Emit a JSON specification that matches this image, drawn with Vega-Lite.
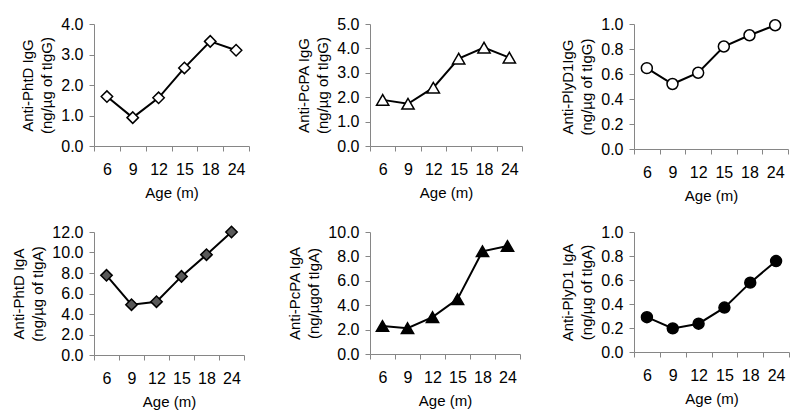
{
  "$schema": "https://vega.github.io/schema/vega-lite/v6.json",
  "padding": {"left": 11, "top": 16, "right": 5, "bottom": 5},
  "config": {
    "font": "Liberation Sans",
    "view": {"stroke": null},
    "axis": {
      "grid": false,
      "domainColor": "#868686",
      "tickColor": "#868686",
      "tickSize": 5,
      "labelFontSize": 16,
      "titleFontSize": 15,
      "titleFontWeight": "normal",
      "labelColor": "black",
      "titleColor": "black"
    },
    "axisX": {"labelPadding": 10, "titlePadding": 8, "labelAngle": 0},
    "axisY": {"labelPadding": 6, "titlePadding": 6, "titleLineHeight": 19}
  },
  "data": {
    "values": [
      {"panel": "p1", "age": 6, "value": 1.62},
      {"panel": "p1", "age": 9, "value": 0.93},
      {"panel": "p1", "age": 12, "value": 1.58},
      {"panel": "p1", "age": 15, "value": 2.56},
      {"panel": "p1", "age": 18, "value": 3.43},
      {"panel": "p1", "age": 24, "value": 3.14},
      {"panel": "p2", "age": 6, "value": 1.89},
      {"panel": "p2", "age": 9, "value": 1.73},
      {"panel": "p2", "age": 12, "value": 2.39},
      {"panel": "p2", "age": 15, "value": 3.58},
      {"panel": "p2", "age": 18, "value": 4.03},
      {"panel": "p2", "age": 24, "value": 3.62},
      {"panel": "p3", "age": 6, "value": 0.647},
      {"panel": "p3", "age": 9, "value": 0.52},
      {"panel": "p3", "age": 12, "value": 0.61},
      {"panel": "p3", "age": 15, "value": 0.82},
      {"panel": "p3", "age": 18, "value": 0.91},
      {"panel": "p3", "age": 24, "value": 0.99},
      {"panel": "p4", "age": 6, "value": 7.77},
      {"panel": "p4", "age": 9, "value": 4.91},
      {"panel": "p4", "age": 12, "value": 5.2},
      {"panel": "p4", "age": 15, "value": 7.67},
      {"panel": "p4", "age": 18, "value": 9.79},
      {"panel": "p4", "age": 24, "value": 12.0},
      {"panel": "p5", "age": 6, "value": 2.3},
      {"panel": "p5", "age": 9, "value": 2.12},
      {"panel": "p5", "age": 12, "value": 3.02},
      {"panel": "p5", "age": 15, "value": 4.5},
      {"panel": "p5", "age": 18, "value": 8.42},
      {"panel": "p5", "age": 24, "value": 8.85},
      {"panel": "p6", "age": 6, "value": 0.29},
      {"panel": "p6", "age": 9, "value": 0.197},
      {"panel": "p6", "age": 12, "value": 0.236},
      {"panel": "p6", "age": 15, "value": 0.37},
      {"panel": "p6", "age": 18, "value": 0.578},
      {"panel": "p6", "age": 24, "value": 0.758}
    ]
  },
  "columns": 3,
  "spacing": {"row": 20, "column": 37},
  "concat": [
    {
      "width": 155, "height": 122,
      "transform": [{"filter": "datum.panel == 'p1'"}],
      "mark": {"type": "line", "color": "black", "strokeWidth": 2, "point": {"shape": "diamond", "filled": true, "fill": "white", "stroke": "black", "strokeWidth": 1.5, "size": 130}},
      "encoding": {
        "x": {"field": "age", "type": "ordinal", "bandPosition": 0.5, "scale": {"type": "band", "paddingInner": 0, "paddingOuter": 0}, "axis": {"title": "Age (m)", "tickBand": "extent"}},
        "y": {"field": "value", "type": "quantitative", "scale": {"domain": [0, 4]}, "axis": {"title": ["Anti-PhtD IgG", "(ng/µg of tIgG)"], "values": [0, 1, 2, 3, 4], "format": ".1f"}}
      }
    },
    {
      "width": 152, "height": 122,
      "transform": [{"filter": "datum.panel == 'p2'"}],
      "mark": {"type": "line", "color": "black", "strokeWidth": 2, "point": {"shape": "triangle-up", "filled": true, "fill": "white", "stroke": "black", "strokeWidth": 1.5, "size": 150}},
      "encoding": {
        "x": {"field": "age", "type": "ordinal", "bandPosition": 0.5, "scale": {"type": "band", "paddingInner": 0, "paddingOuter": 0}, "axis": {"title": "Age (m)", "tickBand": "extent"}},
        "y": {"field": "value", "type": "quantitative", "scale": {"domain": [0, 5]}, "axis": {"title": ["Anti-PcPA  IgG", "(ng/µg of tIgG)"], "values": [0, 1, 2, 3, 4, 5], "format": ".1f"}}
      }
    },
    {
      "width": 154, "height": 125,
      "transform": [{"filter": "datum.panel == 'p3'"}],
      "mark": {"type": "line", "color": "black", "strokeWidth": 2, "point": {"shape": "circle", "filled": true, "fill": "white", "stroke": "black", "strokeWidth": 1.5, "size": 120}},
      "encoding": {
        "x": {"field": "age", "type": "ordinal", "bandPosition": 0.5, "scale": {"type": "band", "paddingInner": 0, "paddingOuter": 0}, "axis": {"title": "Age (m)", "tickBand": "extent"}},
        "y": {"field": "value", "type": "quantitative", "scale": {"domain": [0, 1]}, "axis": {"title": ["Anti-PlyD1IgG", "(ng/µg of tIgG)"], "values": [0, 0.2, 0.4, 0.6, 0.8, 1], "format": ".1f"}}
      }
    },
    {
      "width": 150, "height": 123,
      "transform": [{"filter": "datum.panel == 'p4'"}],
      "mark": {"type": "line", "color": "black", "strokeWidth": 2, "point": {"shape": "diamond", "filled": true, "fill": "#595959", "stroke": "black", "strokeWidth": 1.5, "size": 130}},
      "encoding": {
        "x": {"field": "age", "type": "ordinal", "bandPosition": 0.5, "scale": {"type": "band", "paddingInner": 0, "paddingOuter": 0}, "axis": {"title": "Age (m)", "tickBand": "extent"}},
        "y": {"field": "value", "type": "quantitative", "scale": {"domain": [0, 12]}, "axis": {"title": ["Anti-PhtD IgA", "(ng/µg of tIgA)"], "values": [0, 2, 4, 6, 8, 10, 12], "format": ".1f"}}
      }
    },
    {
      "width": 150, "height": 122,
      "transform": [{"filter": "datum.panel == 'p5'"}],
      "mark": {"type": "line", "color": "black", "strokeWidth": 2, "point": {"shape": "triangle-up", "filled": true, "fill": "black", "stroke": "black", "strokeWidth": 1.5, "size": 150}},
      "encoding": {
        "x": {"field": "age", "type": "ordinal", "bandPosition": 0.5, "scale": {"type": "band", "paddingInner": 0, "paddingOuter": 0}, "axis": {"title": "Age (m)", "tickBand": "extent"}},
        "y": {"field": "value", "type": "quantitative", "scale": {"domain": [0, 10]}, "axis": {"title": ["Anti-PcPA  IgA", "(ng/µgof tIgA)"], "values": [0, 2, 4, 6, 8, 10], "format": ".1f"}}
      }
    },
    {
      "width": 155, "height": 120,
      "transform": [{"filter": "datum.panel == 'p6'"}],
      "mark": {"type": "line", "color": "black", "strokeWidth": 2, "point": {"shape": "circle", "filled": true, "fill": "black", "stroke": "black", "strokeWidth": 1.5, "size": 120}},
      "encoding": {
        "x": {"field": "age", "type": "ordinal", "bandPosition": 0.5, "scale": {"type": "band", "paddingInner": 0, "paddingOuter": 0}, "axis": {"title": "Age (m)", "tickBand": "extent"}},
        "y": {"field": "value", "type": "quantitative", "scale": {"domain": [0, 1]}, "axis": {"title": ["Anti-PlyD1  IgA", "(ng/µg of tIgA)"], "values": [0, 0.2, 0.4, 0.6, 0.8, 1], "format": ".1f"}}
      }
    }
  ]
}
